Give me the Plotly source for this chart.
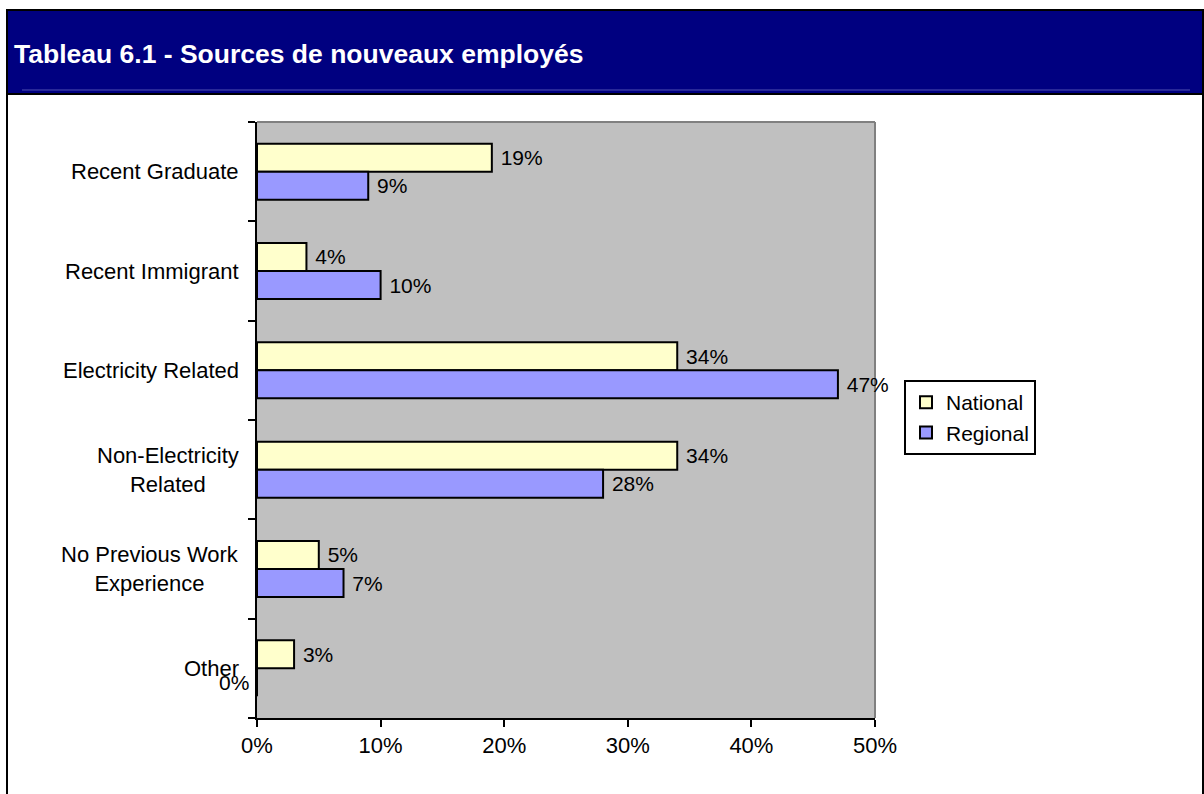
import plotly.graph_objects as go

categories = ["Recent Graduate", "Recent Immigrant", "Electricity Related",
              "Non-Electricity<br>Related", "No Previous Work<br>Experience", "Other"]
national = [19, 4, 34, 34, 5, 3]
regional = [9, 10, 47, 28, 7, 0]
x_ticks = [0, 10, 20, 30, 40, 50]
x_tick_labels = ["0%", "10%", "20%", "30%", "40%", "50%"]
title_text = "Tableau 6.1 - Sources de nouveaux employés"

W, H = 1204, 794
L, R, T, B = 257, 875, 122, 718
FONT = "Liberation Sans, Arial, sans-serif"

def xp(px):
    return (px - L) / (R - L)

def yp(py):
    return (B - py) / (B - T)

BARGAP = 0.436
bw = (1 - BARGAP) / 2

def labels(vals):
    return [f"\u00a0{v}%" if v != 0 else "" for v in vals]

fig = go.Figure()
fig.add_trace(go.Bar(
    y=list(range(len(categories))), x=national, orientation="h", name="National",
    marker=dict(color="#FFFFCC", line=dict(color="black", width=2)),
    text=labels(national), textposition="outside",
    textfont=dict(family=FONT, size=21, color="black"), cliponaxis=False,
))
fig.add_trace(go.Bar(
    y=list(range(len(categories))), x=regional, orientation="h", name="Regional",
    marker=dict(color="#9999FF", line=dict(color="black", width=2)),
    text=labels(regional), textposition="outside",
    textfont=dict(family=FONT, size=21, color="black"), cliponaxis=False,
))

annotations = []
# category labels, centred multi-line
for i, c in enumerate(categories):
    annotations.append(dict(x=0, y=i, xref="paper", yref="y", text=c, showarrow=False,
                            xanchor="right", yanchor="middle", align="center", xshift=-16,
                            font=dict(family=FONT, size=22, color="black")))
for i, v in enumerate(regional):
    if v == 0:
        annotations.append(dict(x=0, y=i + bw / 2, xref="x", yref="y", text=f"{v}%",
                                showarrow=False, xanchor="right", xshift=-6,
                                font=dict(family=FONT, size=21, color="black")))
for i, v in enumerate(national):
    if v == 0:
        annotations.append(dict(x=0, y=i - bw / 2, xref="x", yref="y", text=f"{v}%",
                                showarrow=False, xanchor="right", xshift=-6,
                                font=dict(family=FONT, size=21, color="black")))

annotations.append(dict(x=xp(12), y=yp(54), xref="paper", yref="paper", text=f"<b>{title_text}</b>",
                        showarrow=False, xanchor="left", yanchor="middle",
                        font=dict(family=FONT, size=26.5, color="white")))

shapes = [
    dict(type="rect", xref="paper", yref="paper", x0=xp(7), x1=xp(1203), y0=yp(10), y1=yp(94),
         fillcolor="#000080", line=dict(color="black", width=2), layer="below"),
    dict(type="line", xref="paper", yref="paper", x0=xp(22), x1=xp(1190), y0=yp(90), y1=yp(90),
         line=dict(color="#5050B0", width=1)),
    dict(type="line", xref="paper", yref="paper", x0=xp(7), x1=xp(7), y0=yp(94), y1=yp(800),
         line=dict(color="black", width=2)),
    dict(type="line", xref="paper", yref="paper", x0=xp(1203), x1=xp(1203), y0=yp(94), y1=yp(800),
         line=dict(color="black", width=2)),
    dict(type="line", xref="paper", yref="paper", x0=0, x1=1, y0=1, y1=1,
         line=dict(color="#808080", width=2), layer="below"),
    dict(type="line", xref="paper", yref="paper", x0=1, x1=1, y0=0, y1=1,
         line=dict(color="#808080", width=2), layer="below"),
]

fig.update_layout(
    width=W, height=H,
    margin=dict(l=L, r=W - R, t=T, b=H - B, pad=0),
    paper_bgcolor="white", plot_bgcolor="#C0C0C0",
    barmode="group", bargap=BARGAP, bargroupgap=0,
    font=dict(family=FONT, size=22, color="black"),
    showlegend=True,
    legend=dict(x=xp(904), y=yp(380), xanchor="left", yanchor="top",
                bordercolor="black", borderwidth=2, bgcolor="white",
                font=dict(family=FONT, size=21, color="black"),
                traceorder="normal", itemwidth=30, tracegroupgap=0),
    xaxis=dict(range=[0, 50], tickvals=x_ticks, ticktext=x_tick_labels,
               showgrid=False, zeroline=False, showline=True, linecolor="black", linewidth=2,
               ticks="outside", ticklen=7, tickwidth=2, tickcolor="black",
               tickfont=dict(family=FONT, size=22, color="black"), fixedrange=True),
    yaxis=dict(range=[len(categories) - 0.5, -0.5],
               tickvals=[i - 0.5 for i in range(len(categories) + 1)],
               showticklabels=False,
               showgrid=False, zeroline=False, showline=True, linecolor="black", linewidth=2,
               ticks="outside", ticklen=7, tickwidth=2, tickcolor="black",
               fixedrange=True),
    shapes=shapes,
    annotations=annotations,
)

fig.write_html("out.html")
